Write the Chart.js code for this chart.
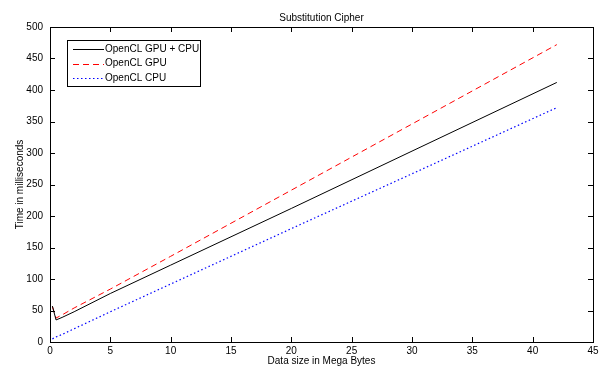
<!DOCTYPE html>
<html>
<head>
<meta charset="utf-8">
<script src="https://cdn.jsdelivr.net/npm/chart.js@4/dist/chart.umd.min.js"></script>
<style>
  html, body { margin: 0; padding: 0; background: #fff; }
  #wrap { width: 612px; height: 372px; }
</style>
</head>
<body>
<div id="wrap"><canvas id="cipherChart" width="612" height="372"></canvas></div>
<script>
// Data
const sizesMB = [0.2, 0.5, 1, 2, 5, 10, 20, 30, 42];
const gpuCpuMs = [57, 35, 39, 48, 77, 122, 212, 303, 412];
const gpuMs = [56, 38, 43, 54, 84, 136, 241, 346, 472];
const cpuMs = [5, 8, 12, 21, 48, 92, 180, 267, 372];
const seriesNames = ['OpenCL GPU + CPU', 'OpenCL GPU', 'OpenCL CPU'];
const xTicks = [0, 5, 10, 15, 20, 25, 30, 35, 40, 45];
const yTicks = [0, 50, 100, 150, 200, 250, 300, 350, 400, 450, 500];

const FONT = '"Liberation Sans", Arial, sans-serif';

const toPoints = (ys) => sizesMB.map((x, i) => ({ x: x, y: ys[i] }));

// Box around the plot with inward ticks, MATLAB style
const boxPlugin = {
    id: 'box',
    afterDatasetsDraw(chart) {
        const { ctx, chartArea: a, scales } = chart;
        ctx.save();
        ctx.strokeStyle = '#000';
        ctx.lineWidth = 1;
        ctx.strokeRect(Math.round(a.left) + 0.5, Math.round(a.top) + 0.5,
            Math.round(a.right - a.left), Math.round(a.bottom - a.top));
        ctx.beginPath();
        xTicks.forEach(v => {
            const px = Math.round(scales.x.getPixelForValue(v)) + 0.5;
            ctx.moveTo(px, a.bottom); ctx.lineTo(px, a.bottom - 5);
            ctx.moveTo(px, a.top); ctx.lineTo(px, a.top + 5);
        });
        yTicks.forEach(v => {
            const py = Math.round(scales.y.getPixelForValue(v)) + 0.5;
            ctx.moveTo(a.left, py); ctx.lineTo(a.left + 5, py);
            ctx.moveTo(a.right, py); ctx.lineTo(a.right - 5, py);
        });
        ctx.stroke();

        // title
        ctx.fillStyle = '#000';
        ctx.font = '10px ' + FONT;
        ctx.textAlign = 'center';
        ctx.textBaseline = 'middle';
        ctx.fillText('Substitution Cipher', (a.left + a.right) / 2, 18);

        // legend
        const lx = a.left + 17, ly = a.top + 13;
        const lw = 133, lh = 46;
        ctx.fillStyle = '#fff';
        ctx.fillRect(lx, ly, lw, lh);
        ctx.strokeRect(lx + 0.5, ly + 0.5, lw, lh);
        ctx.textAlign = 'left';
        chart.data.datasets.forEach((ds, i) => {
            const yy = ly + 9 + i * 14.5;
            ctx.beginPath();
            ctx.strokeStyle = ds.borderColor;
            ctx.setLineDash(ds.borderDash || []);
            ctx.moveTo(lx + 6, Math.round(yy) + 0.5);
            ctx.lineTo(lx + 37, Math.round(yy) + 0.5);
            ctx.stroke();
            ctx.setLineDash([]);
            ctx.fillStyle = '#000';
            ctx.fillText(ds.label, lx + 38, yy);
        });
        ctx.restore();
    }
};

new Chart(document.getElementById('cipherChart'), {
    type: 'line',
    data: {
        datasets: [{
            label: seriesNames[0],
            data: toPoints(gpuCpuMs),
            borderColor: '#000000',
            borderWidth: 1
        }, {
            label: seriesNames[1],
            data: toPoints(gpuMs),
            borderColor: '#ff0000',
            borderWidth: 1,
            borderDash: [6, 4]
        }, {
            label: seriesNames[2],
            data: toPoints(cpuMs),
            borderColor: '#0000ff',
            borderWidth: 1.2,
            borderDash: [1.5, 2.5]
        }]
    },
    options: {
        responsive: false,
        animation: false,
        layout: { padding: { left: 0, top: 27, right: 19, bottom: 0 } },
        elements: { point: { radius: 0 }, line: { tension: 0 } },
        plugins: {
            legend: { display: false },
            tooltip: { enabled: false }
        },
        scales: {
            x: {
                type: 'linear',
                min: 0, max: 45,
                afterBuildTicks: (s) => { s.ticks = xTicks.map(v => ({ value: v })); },
                afterFit: (s) => { s.height = 30; },
                grid: { display: false, drawTicks: false },
                border: { display: false },
                ticks: { color: '#000', font: { family: FONT, size: 10 }, padding: 3, maxRotation: 0 },
                title: { display: true, text: 'Data size in Mega Bytes', color: '#000',
                         font: { family: FONT, size: 10 }, padding: { top: 0, bottom: 5 } }
            },
            y: {
                min: 0, max: 500,
                afterBuildTicks: (s) => { s.ticks = yTicks.map(v => ({ value: v })); },
                afterFit: (s) => { s.width = 50; },
                grid: { display: false, drawTicks: false },
                border: { display: false },
                ticks: { color: '#000', font: { family: FONT, size: 10 }, padding: 7 },
                title: { display: true, text: 'Time in milliseconds', color: '#000',
                         font: { family: FONT, size: 10 }, padding: { top: 14, bottom: 0 } }
            }
        }
    },
    plugins: [boxPlugin]
});
</script>
</body>
</html>
